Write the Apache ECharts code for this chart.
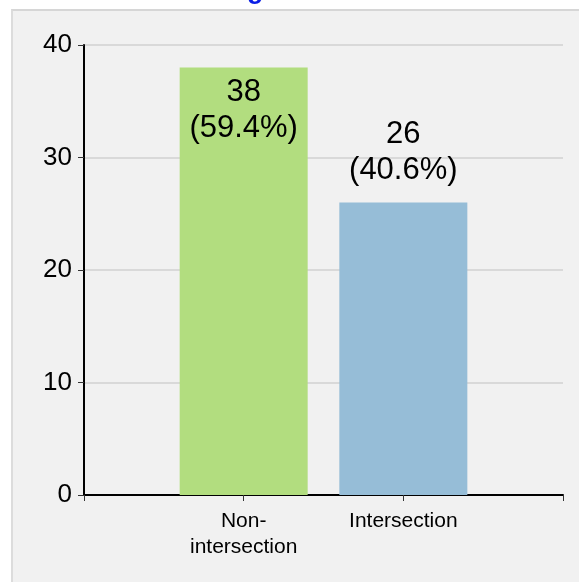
<!DOCTYPE html>
<html>
<head>
<meta charset="utf-8">
<script src="https://cdn.jsdelivr.net/npm/echarts@6/dist/echarts.min.js"></script>
<style>
  html, body { margin: 0; padding: 0; background: #ffffff; width: 579px; height: 582px; overflow: hidden; }
  #panel { position: absolute; left: 11px; top: 9px; width: 568px; height: 573px; background: #f1f1f1; border-top: 2px solid #d6d6d6; border-left: 2px solid #dcdcdc; box-sizing: border-box; }
  #chart { position: absolute; left: 0; top: 0; width: 579px; height: 582px; }
</style>
</head>
<body>
<div id="panel"></div>
<div id="chart"></div>
<script>
const categories = ['', 'Non-\nintersection', 'Intersection', ''];
const counts = ['-', 38, 26, '-'];
const percents = ['', '59.4%', '40.6%', ''];
const barColors = ['#b2dd7f', '#b2dd7f', '#96bdd7', '#96bdd7'];
const labelPositions = ['top', 'insideTop', 'top', 'top'];
const labelDistances = [14, 7, 14, 14];
const yTicks = { min: 0, max: 40, interval: 10 };

const chart = echarts.init(document.getElementById('chart'), null, { renderer: 'canvas' });
const FONT = 'Liberation Sans, Arial, sans-serif';

const seriesData = counts.map((v, i) => ({
  value: v,
  itemStyle: { color: barColors[i] },
  label: { position: labelPositions[i], distance: labelDistances[i] }
}));

chart.setOption({
  backgroundColor: 'transparent',
  animation: false,
  graphic: [{
    type: 'text',
    left: 247,
    top: -23,
    style: { text: 'g', font: 'bold 27px ' + FONT, fill: '#0a1ee6' }
  }],
  grid: { left: 84, right: 16, top: 45, bottom: 87 },
  xAxis: {
    type: 'category',
    data: categories,
    boundaryGap: false,
    axisLine: { show: true, lineStyle: { color: '#000', width: 2 } },
    axisTick: { show: true, length: 6, lineStyle: { color: '#333', width: 1 } },
    axisLabel: { color: '#000', fontSize: 21, fontFamily: FONT, margin: 13, lineHeight: 26, interval: 0 },
    splitLine: { show: false }
  },
  yAxis: {
    type: 'value',
    min: yTicks.min, max: yTicks.max, interval: yTicks.interval,
    axisLine: { show: true, lineStyle: { color: '#000', width: 2 } },
    axisTick: { show: true, length: 6, lineStyle: { color: '#333', width: 1 } },
    axisLabel: { color: '#000', fontSize: 26, fontFamily: FONT, margin: 12 },
    splitLine: { show: true, lineStyle: { color: '#d9d9d9', width: 2 } }
  },
  series: [{
    type: 'bar',
    data: seriesData,
    barWidth: 128,
    label: {
      show: true,
      color: '#000',
      fontSize: 31,
      fontFamily: FONT,
      lineHeight: 36,
      formatter: p => p.value + '\n(' + percents[p.dataIndex] + ')'
    }
  }]
});
</script>
</body>
</html>
